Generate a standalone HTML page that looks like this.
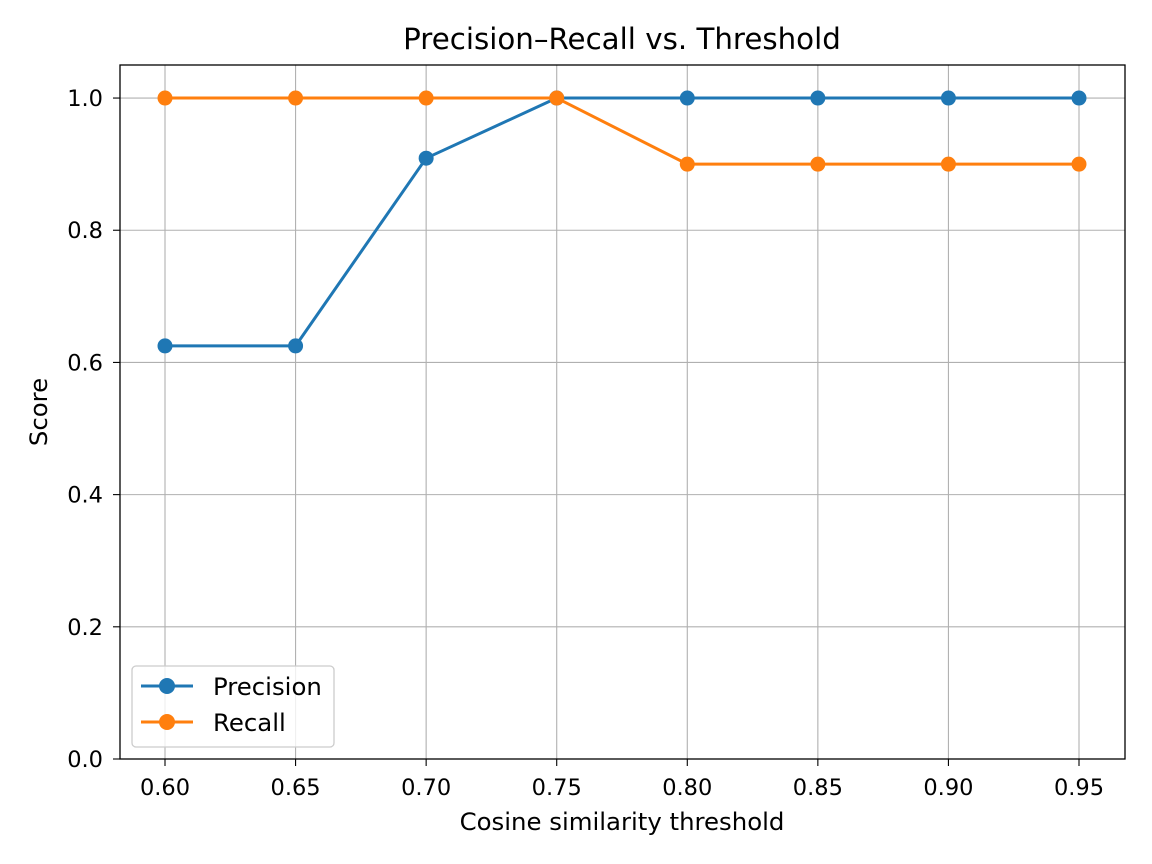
<!DOCTYPE html>
<html><head><meta charset="utf-8"><style>
body{margin:0;background:#fff;}
svg{display:block;font-family:"DejaVu Sans","Liberation Sans",sans-serif;}
</style></head><body>
<svg id="chart" width="1152" height="864" viewBox="0 0 1152 864">
<rect width="1152" height="864" fill="#fff"/>
<g id="grid"></g>
<g id="series"></g>
<rect x="120" y="65" width="1005" height="694" fill="none" stroke="#000" stroke-width="1.3"/>
<g id="ticks"></g>
<text x="622" y="49" text-anchor="middle" font-size="29.3">Precision–Recall vs. Threshold</text>
<text x="622" y="830" text-anchor="middle" font-size="24.4">Cosine similarity threshold</text>
<text transform="translate(47,412) rotate(-90)" text-anchor="middle" font-size="24.4">Score</text>
<g>
<rect x="132" y="666" width="202" height="81" rx="4" fill="#fff" fill-opacity="0.8" stroke="#ccc" stroke-width="1.3"/>
<g>
<line x1="141" y1="686" x2="193" y2="686" stroke="#1f77b4" stroke-width="3"/>
<circle cx="167" cy="686" r="8" fill="#1f77b4"/>
<text x="213" y="695" font-size="24.4">Precision</text></g>
<g>
<line x1="141" y1="722" x2="193" y2="722" stroke="#ff7f0e" stroke-width="3"/>
<circle cx="167" cy="722" r="8" fill="#ff7f0e"/>
<text x="213" y="731" font-size="24.4">Recall</text></g>
</g>
</svg>
<script>
const thresholds=[0.60,0.65,0.70,0.75,0.80,0.85,0.90,0.95];
const precision=[0.625,0.625,0.909,1.0,1.0,1.0,1.0,1.0];
const recall=[1.0,1.0,1.0,1.0,0.9,0.9,0.9,0.9];
const yTicks=[0.0,0.2,0.4,0.6,0.8,1.0];
const xTickLabels=["0.60","0.65","0.70","0.75","0.80","0.85","0.90","0.95"];
const NS="http://www.w3.org/2000/svg";
const X0=120,X1=1125,Y0=759,Y1=65;
const xMin=0.6-45/2611.4,xMax=0.95+46/2611.4,yMin=0,yMax=1.05;
const xs=v=>X0+(v-xMin)/(xMax-xMin)*(X1-X0);
const ys=v=>Y0-(v-yMin)/(yMax-yMin)*(Y0-Y1);
function mk(tag,attrs,parent){const e=document.createElementNS(NS,tag);for(const k in attrs)e.setAttribute(k,attrs[k]);parent.appendChild(e);return e;}
const grid=document.getElementById('grid'),ticks=document.getElementById('ticks'),ser=document.getElementById('series');
thresholds.forEach((t,i)=>{const x=xs(t);
 const g=mk('line',{x1:x,x2:x,y1:Y1,y2:Y0,stroke:'#b0b0b0','stroke-width':1.1},grid);
 
 
 mk('line',{x1:x,x2:x,y1:Y0,y2:Y0+7,stroke:'#000','stroke-width':1.1},ticks);
 const tx=mk('text',{x:x,y:Y0+36,'text-anchor':'middle','font-size':22.5},ticks);tx.textContent=xTickLabels[i];
 
 
});
yTicks.forEach(v=>{const y=ys(v);
 const g=mk('line',{x1:X0,x2:X1,y1:y,y2:y,stroke:'#b0b0b0','stroke-width':1.1},grid);
 
 
 mk('line',{x1:X0-7,x2:X0,y1:y,y2:y,stroke:'#000','stroke-width':1.1},ticks);
 const tx=mk('text',{x:X0-17,y:y+8,'text-anchor':'end','font-size':22.5},ticks);tx.textContent=v.toFixed(1);
 
 
});
function drawSeries(vals,color,name){
 const pts=vals.map((v,i)=>xs(thresholds[i])+','+ys(v)).join(' ');
 const pl=mk('polyline',{points:pts,fill:'none',stroke:color,'stroke-width':3,'stroke-linejoin':'round'},ser);
 
 
 vals.forEach((v,i)=>{const c=mk('circle',{cx:xs(thresholds[i]),cy:ys(v),r:7.5,fill:color},ser);
  
  });
}
drawSeries(precision,'#1f77b4','precision');
drawSeries(recall,'#ff7f0e','recall');
</script>
</body></html>
